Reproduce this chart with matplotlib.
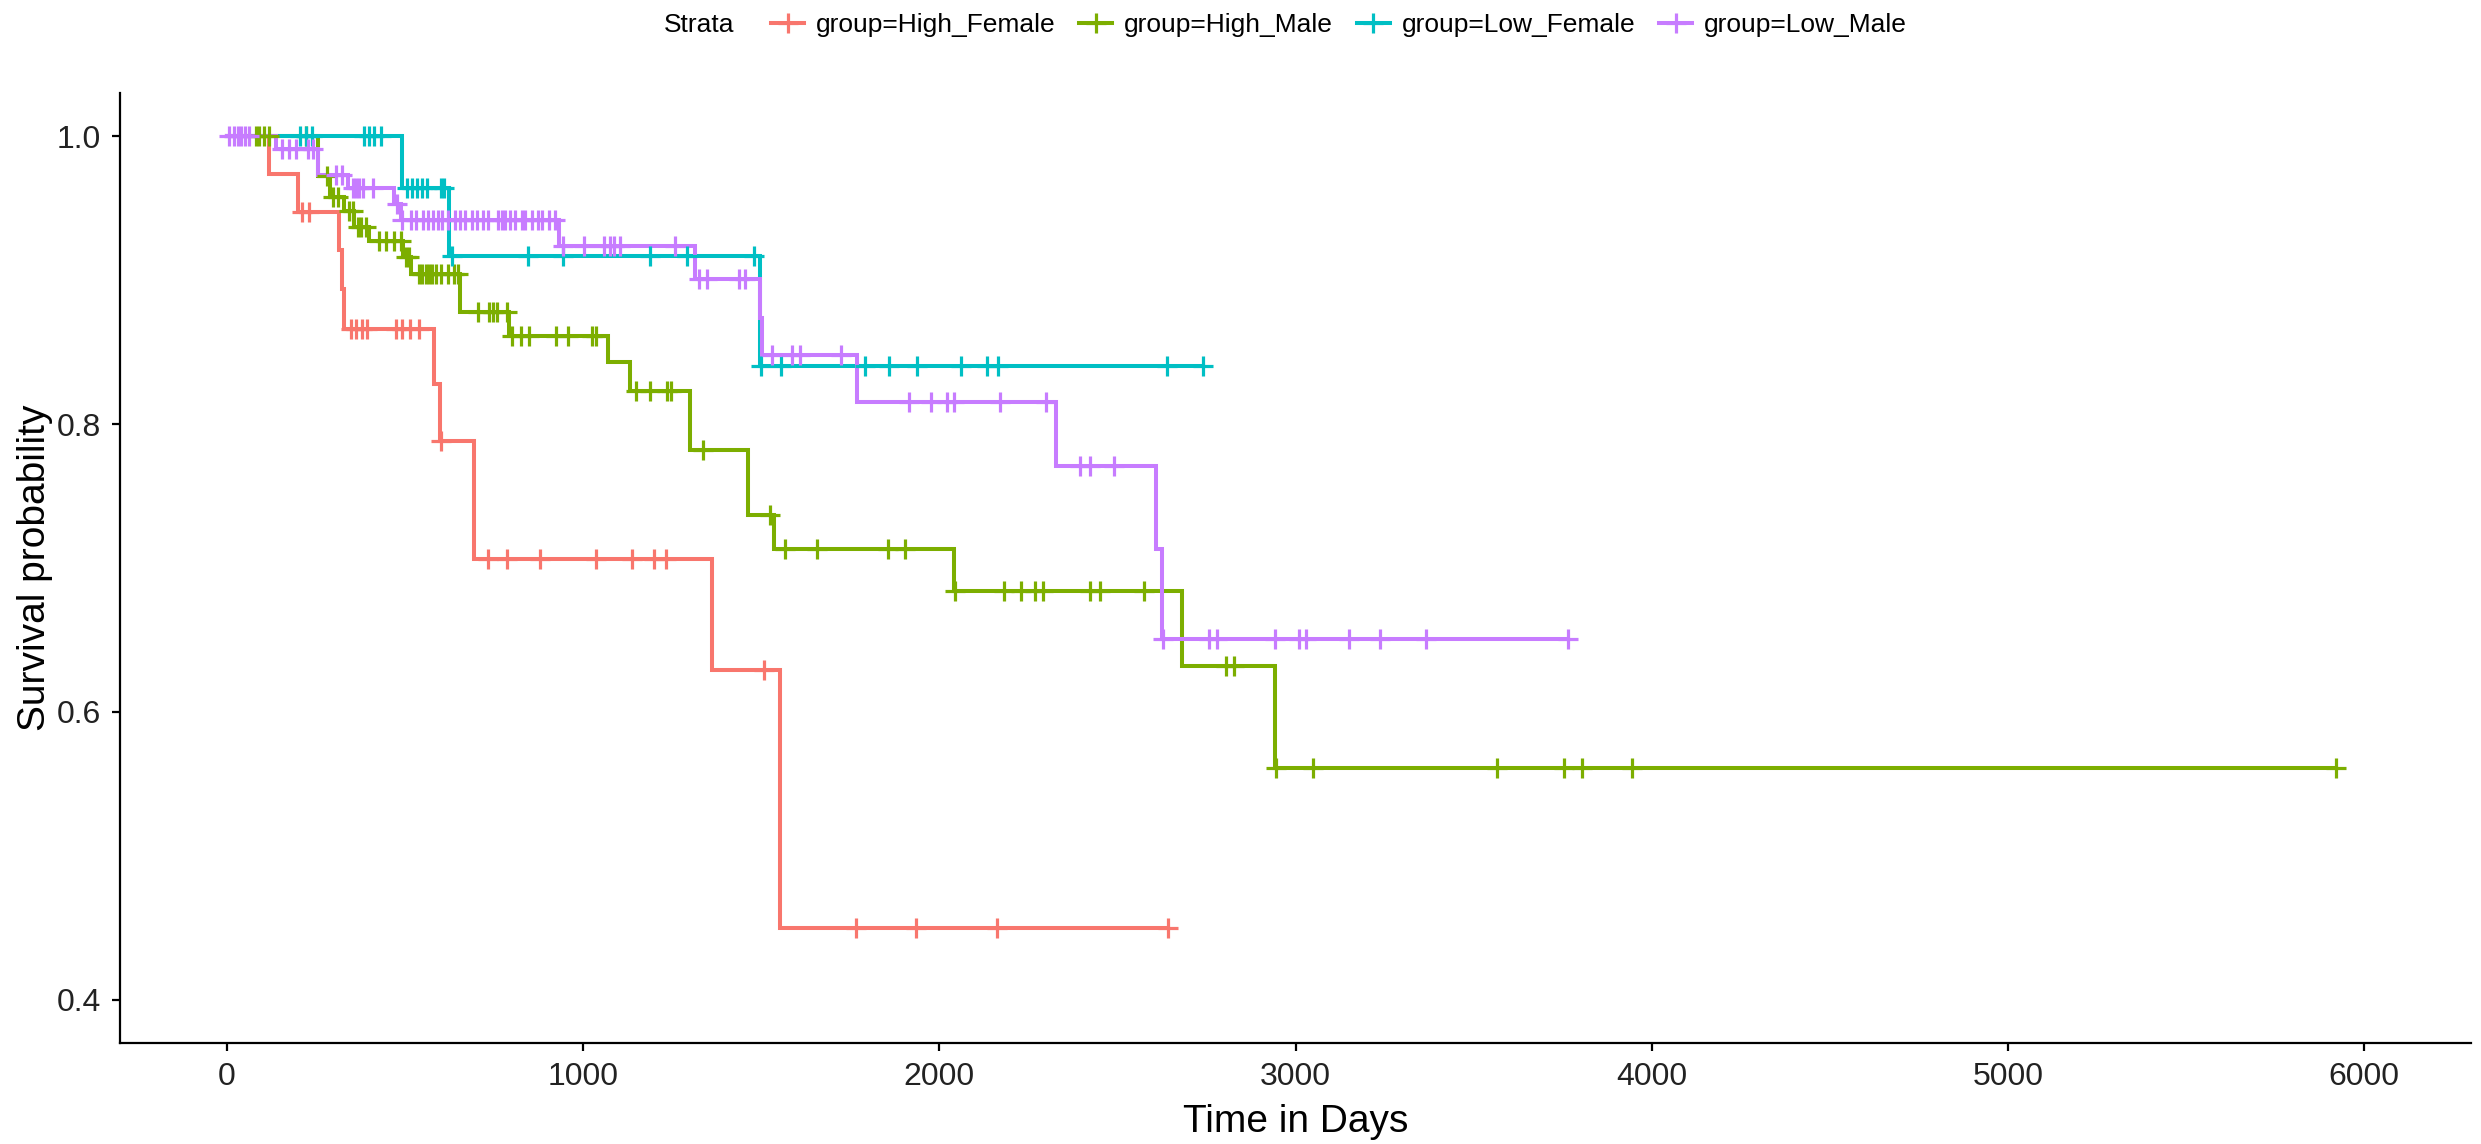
import numpy as np
import matplotlib
matplotlib.use("Agg")
import matplotlib.pyplot as plt
from matplotlib.lines import Line2D

plt.rcParams['font.family'] = ['Liberation Sans', 'DejaVu Sans']

# ---------------- data ----------------
groups = ["group=High_Female", "group=High_Male", "group=Low_Female", "group=Low_Male"]
colors = ["#F8766D", "#7CAE00", "#00BFC4", "#C77CFF"]

hf_event_t = [118, 201, 316, 322, 328, 581, 597, 695, 1361, 1553]
hf_event_s = [0.974, 0.947, 0.921, 0.894, 0.866, 0.828, 0.788, 0.706, 0.629, 0.450]
hf_cens_t = [212, 230, 348, 362, 378, 394, 474, 493, 515, 538, 600, 733, 787, 879,
             1037, 1138, 1199, 1233, 1508, 1765, 1934, 2161, 2641]

hm_event_t = [255, 290, 329, 357, 400, 495, 517, 655, 792, 1070, 1132, 1300, 1464,
              1537, 2041, 2682, 2942]
hm_event_s = [0.972, 0.958, 0.948, 0.937, 0.927, 0.916, 0.904, 0.878, 0.861, 0.843,
              0.823, 0.782, 0.737, 0.713, 0.684, 0.632, 0.561]
hm_cens_t = [81, 90, 104, 118, 222, 280, 297, 311, 343, 353, 367, 376, 390, 427, 446,
             469, 488, 502, 510, 540, 549, 559, 568, 577, 587, 601, 620, 638, 648, 704,
             736, 747, 758, 787, 800, 826, 848, 925, 958, 1025, 1037, 1148, 1187, 1236,
             1247, 1336, 1526, 1566, 1657, 1857, 1904, 2045, 2181, 2229, 2270, 2292,
             2424, 2452, 2576, 2805, 2828, 2945, 3050, 3566, 3754, 3805, 3945, 5920]

lf_event_t = [493, 624, 1497]
lf_event_s = [0.964, 0.917, 0.840]
lf_cens_t = [205, 222, 240, 385, 399, 413, 432, 507, 521, 535, 549, 563, 601, 610, 633,
             844, 945, 1187, 1292, 1481, 1499, 1556, 1791, 1860, 1937, 2060, 2135, 2165,
             2638, 2741]

lm_event_t = [137, 255, 339, 470, 489, 932, 1315, 1497, 1503, 1770, 2329, 2609, 2625]
lm_event_s = [0.991, 0.973, 0.964, 0.953, 0.942, 0.924, 0.901, 0.874, 0.848, 0.815,
              0.771, 0.713, 0.651]
lm_cens_t = [5, 20, 30, 40, 50, 62, 156, 174, 194, 227, 241, 306, 322, 353, 362, 371,
             381, 409, 479, 492, 517, 531, 550, 565, 579, 593, 603, 621, 640, 654, 668,
             687, 701, 720, 734, 762, 771, 781, 795, 809, 828, 837, 856, 874, 884, 903,
             921, 943, 1003, 1059, 1076, 1087, 1104, 1258, 1326, 1348, 1437, 1454, 1531,
             1587, 1610, 1725, 1915, 1978, 2022, 2042, 2170, 2300, 2395, 2423, 2490,
             2627, 2758, 2780, 2942, 3010, 3030, 3150, 3238, 3365, 3765]

x_ticks = [0, 1000, 2000, 3000, 4000, 5000, 6000]
y_ticks = [0.4, 0.6, 0.8, 1.0]
x_label = "Time in Days"
y_label = "Survival probability"
legend_title = "Strata"

series = [
    (hf_event_t, hf_event_s, hf_cens_t),
    (hm_event_t, hm_event_s, hm_cens_t),
    (lf_event_t, lf_event_s, lf_cens_t),
    (lm_event_t, lm_event_s, lm_cens_t),
]

# ---------------- figure ----------------
W, H, DPI = 2481, 1144, 100
fig = plt.figure(figsize=(W / DPI, H / DPI), dpi=DPI)
ax = fig.add_axes([120 / W, 1 - 1043 / H, (2471 - 120) / W, (1043 - 93) / H])

LW = 2.9
MS = 15
MEW = 2.3

# step lines
for (et, es, ct), col in zip(series, colors):
    tmax = max(max(et), max(ct))
    xs = [0] + list(et) + [tmax]
    ys = [1.0] + list(es) + [es[-1]]
    ax.step(xs, ys, where='post', color=col, lw=LW, solid_joinstyle='miter', zorder=2)

# censor marks
for (et, es, ct), col in zip(series, colors):
    levels = np.array([1.0] + list(es))
    idx = np.searchsorted(np.array(et), np.array(ct), side='right')
    ax.plot(ct, levels[idx], linestyle='none', marker='+', color=col,
            markersize=MS, markeredgewidth=MEW, zorder=3)

ax.set_xlim(-300, 6300)
ax.set_ylim(0.37, 1.03)
ax.set_xticks(x_ticks)
ax.set_yticks(y_ticks)
ax.set_yticklabels([f"{v:.1f}" for v in y_ticks])

for s in ['top', 'right']:
    ax.spines[s].set_visible(False)
for s in ['left', 'bottom']:
    ax.spines[s].set_linewidth(1.6)
    ax.spines[s].set_color('black')

ax.tick_params(axis='both', which='major', length=5.5, width=1.6, color='black',
               labelsize=23, labelcolor='#222222', pad=8)

ax.set_xlabel(x_label, fontsize=28, labelpad=9)
ax.set_ylabel(y_label, fontsize=28, labelpad=3)

# legend on top
handles = [Line2D([0], [0], color=c, lw=LW, marker='+', markersize=MS,
                  markeredgewidth=MEW) for c in colors]
leg = fig.legend(handles, groups, loc='center', bbox_to_anchor=(1339 / W, 1 - 25 / H),
                 ncol=4, frameon=False, fontsize=19, handlelength=1.25,
                 handletextpad=0.45, columnspacing=0.9, borderaxespad=0, borderpad=0)
fig.text(734 / W, 1 - 25 / H, legend_title, ha='right', va='center', fontsize=19)

fig.savefig("out.png", dpi=DPI)
